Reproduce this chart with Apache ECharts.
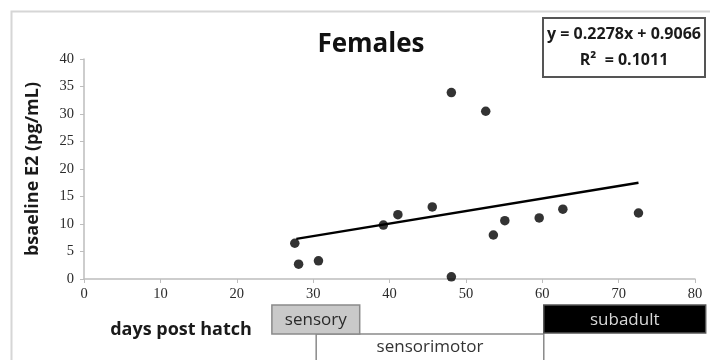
<!DOCTYPE html>
<html>
<head>
<meta charset="utf-8">
<script src="https://cdn.jsdelivr.net/npm/echarts@6/dist/echarts.min.js"></script>
<style>html,body{margin:0;padding:0;background:#fff}#c{width:710px;height:360px}</style>
</head>
<body>
<div id="c"></div>
<script>
// Data
const daysPostHatch = [27.6, 28.1, 30.7, 39.2, 41.1, 45.6, 48.1, 52.6, 48.1, 53.6, 55.1, 59.6, 62.7, 72.6];
const baselineE2 = [6.5, 2.7, 3.3, 9.8, 11.7, 13.1, 33.9, 30.5, 0.4, 8.0, 10.6, 11.1, 12.7, 12.0];
const trendX = [27.8, 72.6];
const trendY = [7.3, 17.5];
const xTicks = [0, 10, 20, 30, 40, 50, 60, 70, 80];
const yTicks = [0, 5, 10, 15, 20, 25, 30, 35, 40];
const phaseNames = ['sensorimotor', 'sensory', 'subadult'];
const phaseStart = [30.4, 24.6, 60.2];
const phaseEnd = [60.2, 36.1, 81.4];
const titleText = 'Females';
const yTitle = 'bsaeline E2 (pg/mL)';
const xTitle = 'days post hatch';
const eqLine1 = 'y = 0.2278x + 0.9066';
const eqLine2 = 'R\u00B2  = 0.1011';

const points = daysPostHatch.map((x, i) => [x, baselineE2[i]]);
const trend = trendX.map((x, i) => [x, trendY[i]]);
const phases = phaseNames.map((n, i) => [phaseStart[i], phaseEnd[i], n]);

const chart = echarts.init(document.getElementById('c'), null, {renderer: 'canvas'});
const tickFont = '"Liberation Serif", "DejaVu Serif", serif';
const sansFont = '"Open Sans", "Liberation Sans", sans-serif';

const phaseStyle = {
  sensorimotor: {fill: '#ffffff', stroke: '#8a8a8a', text: '#333', top: 334, bottom: 372, textY: 347},
  sensory: {fill: '#c9c9c9', stroke: '#8a8a8a', text: '#2a2a2a', top: 305, bottom: 334, textY: 320},
  subadult: {fill: '#000000', stroke: '#555', text: '#d8d8d8', top: 305, bottom: 333, textY: 320}
};

chart.setOption({
  animation: false,
  backgroundColor: '#fff',
  grid: {left: 84, right: 15, top: 59, bottom: 81},
  title: {
    text: titleText, left: 366, top: 27, textAlign: 'center',
    textStyle: {fontFamily: sansFont, fontWeight: 'bold', fontSize: 26, color: '#111'}
  },
  xAxis: {
    type: 'value', min: 0, max: 80, interval: 10,
    axisLine: {show: true, lineStyle: {color: '#bdbdbd', width: 1.5}},
    axisTick: {show: true, length: 4, lineStyle: {color: '#bdbdbd'}},
    splitLine: {show: false},
    axisLabel: {fontFamily: tickFont, fontSize: 14.5, color: '#2a2a2a', margin: 8,
      formatter: v => xTicks.includes(v) ? String(v) : ''}
  },
  yAxis: {
    type: 'value', min: 0, max: 40, interval: 5,
    name: yTitle, nameLocation: 'middle', nameGap: 42, nameRotate: 90,
    nameTextStyle: {fontFamily: sansFont, fontWeight: 'bold', fontSize: 18, color: '#1a1a1a'},
    axisLine: {show: true, lineStyle: {color: '#bdbdbd', width: 1.5}},
    axisTick: {show: true, length: 4, lineStyle: {color: '#bdbdbd'}},
    splitLine: {show: false},
    axisLabel: {fontFamily: tickFont, fontSize: 14.5, color: '#2a2a2a', margin: 10,
      formatter: v => yTicks.includes(v) ? String(v) : ''}
  },
  series: [
    {
      type: 'custom', clip: false, silent: true, z: 1,
      data: phases,
      encode: {x: [0, 1]},
      renderItem: function (params, api) {
        const name = phaseNames[params.dataIndex];
        const s = phaseStyle[name];
        const x0 = api.coord([api.value(0), 0])[0];
        const x1 = api.coord([api.value(1), 0])[0];
        return {
          type: 'group',
          children: [
            {type: 'rect', shape: {x: x0, y: s.top, width: x1 - x0, height: s.bottom - s.top},
             style: {fill: s.fill, stroke: s.stroke, lineWidth: 1.5}},
            {type: 'text', x: (x0 + x1) / 2, y: s.textY,
             style: {text: name, fill: s.text, font: '17px ' + sansFont, align: 'center', verticalAlign: 'middle'}}
          ]
        };
      }
    },
    {
      type: 'scatter', data: points, symbolSize: 9.5, z: 3,
      itemStyle: {color: '#000'}
    },
    {
      type: 'line', data: trend, symbol: 'none', z: 2,
      lineStyle: {color: '#000', width: 2.4}
    }
  ],
  graphic: [
    {type: 'rect', left: 9, top: 9, z: -10, silent: true,
     shape: {width: 720, height: 365}, style: {fill: 'none', stroke: '#d6d6d6', lineWidth: 2}},
    {type: 'rect', z: 10, silent: true, x: 543, y: 18,
     shape: {width: 162, height: 59}, style: {fill: '#fff', stroke: '#555', lineWidth: 2}},
    {type: 'text', z: 11, silent: true, x: 624, y: 34,
     style: {text: eqLine1, font: 'bold 16px "Liberation Sans Narrow", ' + sansFont, fill: '#1a1a1a', align: 'center', verticalAlign: 'middle'}},
    {type: 'text', z: 11, silent: true, x: 624, y: 60,
     style: {text: eqLine2, font: 'bold 16px "Liberation Sans Narrow", ' + sansFont, fill: '#1a1a1a', align: 'center', verticalAlign: 'middle'}},
    {type: 'text', z: 11, silent: true, x: 181, y: 330,
     style: {text: xTitle, font: 'bold 18px ' + sansFont, fill: '#1a1a1a', align: 'center', verticalAlign: 'middle'}}
  ]
});
</script>
</body>
</html>
